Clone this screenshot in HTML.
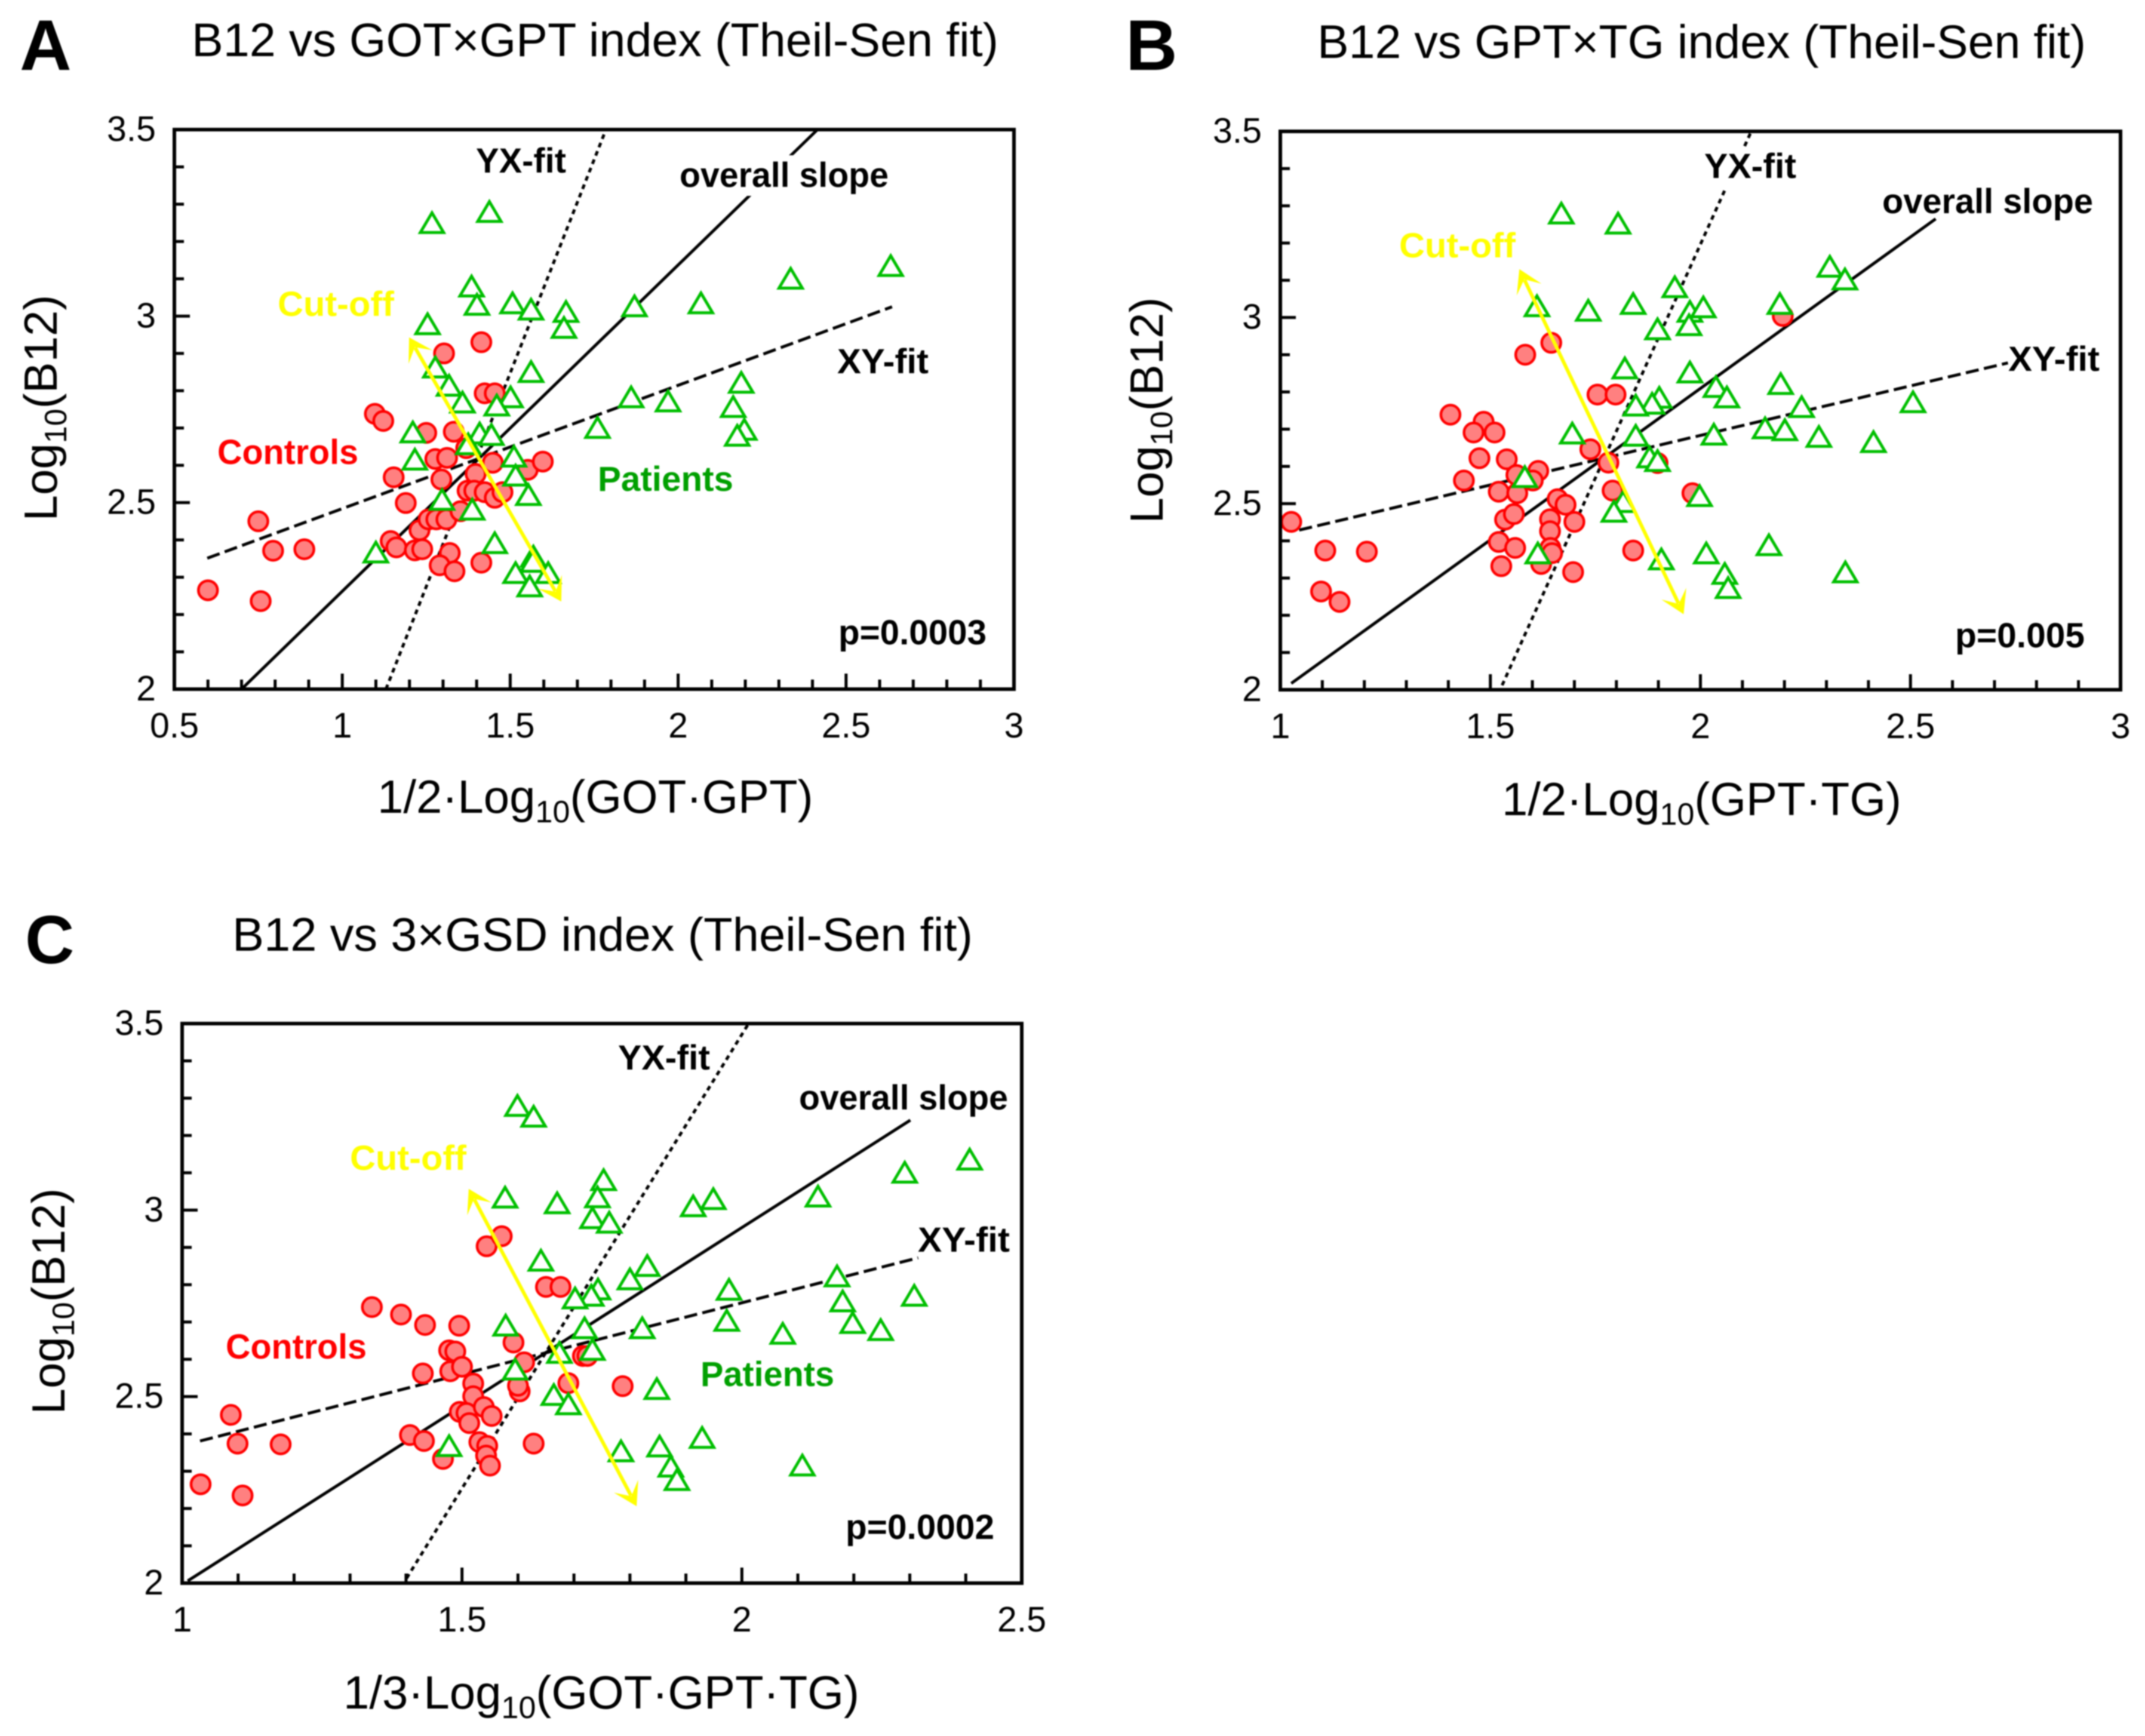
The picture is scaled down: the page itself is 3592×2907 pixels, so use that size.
<!DOCTYPE html>
<html lang="en">
<head>
<meta charset="utf-8">
<title>B12 vs liver and lipid indices (Theil-Sen fit)</title>
<style>
html,body{margin:0;padding:0;background:#fff;}
svg{display:block;filter:blur(1px);}
text{font-family:"Liberation Sans",sans-serif;fill:#000;}
.t{font-size:79px;}
.l{font-size:120px;font-weight:bold;}
.ax{font-size:78px;}
.a{font-size:58px;font-weight:bold;}
</style>
</head>
<body>
<svg id="figure" xmlns="http://www.w3.org/2000/svg" width="3592" height="2907" viewBox="0 0 3592 2907">
<rect x="0" y="0" width="3592" height="2907" fill="#fff"/>

<g id="panel-a">
<g id="marks-a"></g>
<rect x="1136" y="260" width="352" height="68" fill="#fff"/>
<text class="l" x="33" y="117">A</text>
<text class="t" x="321" y="94" textLength="1351" lengthAdjust="spacingAndGlyphs">B12 vs GOT×GPT index (Theil-Sen fit)</text>
<text class="ax" x="632" y="1361">1/2·Log<tspan font-size="52" dy="16">10</tspan><tspan dy="-16">(GOT·GPT)</tspan></text>
<text class="ax" text-anchor="middle" transform="translate(95,683) rotate(-90)">Log<tspan font-size="52" dy="16">10</tspan><tspan dy="-16">(B12)</tspan></text>
<text class="a" x="797" y="289" textLength="151" lengthAdjust="spacingAndGlyphs">YX-fit</text>
<text class="a" x="1138" y="313" textLength="350" lengthAdjust="spacingAndGlyphs">overall slope</text>
<text class="a" x="1402" y="625" textLength="153" lengthAdjust="spacingAndGlyphs">XY-fit</text>
<text class="a" x="465" y="529" textLength="195" lengthAdjust="spacingAndGlyphs" style="fill:#ffff00">Cut-off</text>
<text class="a" x="364" y="777" textLength="236" lengthAdjust="spacingAndGlyphs" style="fill:#ff0000">Controls</text>
<text class="a" x="1001" y="822" textLength="227" lengthAdjust="spacingAndGlyphs" style="fill:#00a000">Patients</text>
<text class="a" x="1404" y="1079" textLength="248" lengthAdjust="spacingAndGlyphs">p=0.0003</text>
</g>

<g id="panel-b">
<g id="marks-b"></g>
<rect x="2852" y="250" width="160" height="66" fill="#fff"/>
<text class="l" x="1885" y="117">B</text>
<text class="t" x="2206" y="97" textLength="1287" lengthAdjust="spacingAndGlyphs">B12 vs GPT×TG index (Theil-Sen fit)</text>
<text class="ax" x="2515" y="1365">1/2·Log<tspan font-size="52" dy="16">10</tspan><tspan dy="-16">(GPT·TG)</tspan></text>
<text class="ax" text-anchor="middle" transform="translate(1947,687) rotate(-90)">Log<tspan font-size="52" dy="16">10</tspan><tspan dy="-16">(B12)</tspan></text>
<text class="a" x="2854" y="298" textLength="154" lengthAdjust="spacingAndGlyphs">YX-fit</text>
<text class="a" x="3152" y="357" textLength="353" lengthAdjust="spacingAndGlyphs">overall slope</text>
<text class="a" x="3363" y="621" textLength="153" lengthAdjust="spacingAndGlyphs">XY-fit</text>
<text class="a" x="2343" y="431" textLength="195" lengthAdjust="spacingAndGlyphs" style="fill:#ffff00">Cut-off</text>
<text class="a" x="3274" y="1084" textLength="217" lengthAdjust="spacingAndGlyphs">p=0.005</text>
</g>

<g id="panel-c">
<g id="marks-c"></g>
<text class="l" x="42" y="1613" style="font-size:114px">C</text>
<text class="t" x="389" y="1592" textLength="1240" lengthAdjust="spacingAndGlyphs">B12 vs 3×GSD index (Theil-Sen fit)</text>
<text class="ax" x="575" y="2861">1/3·Log<tspan font-size="52" dy="16">10</tspan><tspan dy="-16">(GOT·GPT·TG)</tspan></text>
<text class="ax" text-anchor="middle" transform="translate(108,2179) rotate(-90)">Log<tspan font-size="52" dy="16">10</tspan><tspan dy="-16">(B12)</tspan></text>
<text class="a" x="1035" y="1791" textLength="154" lengthAdjust="spacingAndGlyphs">YX-fit</text>
<text class="a" x="1338" y="1858" textLength="350" lengthAdjust="spacingAndGlyphs">overall slope</text>
<text class="a" x="1537" y="2096" textLength="154" lengthAdjust="spacingAndGlyphs">XY-fit</text>
<text class="a" x="586" y="1959" textLength="195" lengthAdjust="spacingAndGlyphs" style="fill:#ffff00">Cut-off</text>
<text class="a" x="378" y="2275" textLength="236" lengthAdjust="spacingAndGlyphs" style="fill:#ff0000">Controls</text>
<text class="a" x="1173" y="2321" textLength="224" lengthAdjust="spacingAndGlyphs" style="fill:#00a000">Patients</text>
<text class="a" x="1416" y="2577" textLength="249" lengthAdjust="spacingAndGlyphs">p=0.0002</text>
</g>
</svg>

<script>
// ---------- Tick labels ----------
var yTickLabels = ['2', '2.5', '3', '3.5'];
var xTickLabelsA = ['0.5', '1', '1.5', '2', '2.5', '3'];
var xTickLabelsB = ['1', '1.5', '2', '2.5', '3'];
var xTickLabelsC = ['1', '1.5', '2', '2.5'];

// ---------- Panel A values ----------
var controlsAX = [0.60,0.757,0.75,0.794,0.887,1.097,1.122,1.153,1.189,1.144,1.161,1.216,1.238,1.23,1.25,1.277,1.312,1.295,1.303,1.257,1.28,1.31,1.352,1.32,1.29,1.334,1.414,1.414,1.424,1.454,1.332,1.369,1.397,1.373,1.393,1.424,1.454,1.477,1.448,1.552,1.597];
var controlsAY = [2.265,2.236,2.45,2.371,2.375,2.738,2.719,2.568,2.499,2.397,2.38,2.372,2.375,2.426,2.687,2.617,2.62,2.562,2.90,2.455,2.455,2.455,2.477,2.365,2.332,2.316,2.339,2.93,2.793,2.793,2.69,2.646,2.577,2.532,2.532,2.528,2.513,2.528,2.607,2.588,2.61];
var patientsAX = [1.267,1.438,2.633,2.335,2.068,1.87,1.507,1.562,1.666,1.66,1.385,1.401,1.254,1.277,1.318,1.358,1.562,1.501,1.46,1.86,1.97,2.188,2.164,2.197,2.176,1.76,1.21,1.216,1.409,1.375,1.444,1.511,1.516,1.554,1.297,1.387,1.454,1.10,1.569,1.567,1.516,1.613,1.558];
var patientsAY = [3.248,3.278,3.133,3.099,3.033,3.025,3.033,3.016,3.01,2.967,3.078,3.029,2.977,2.861,2.812,2.767,2.849,2.781,2.759,2.781,2.77,2.82,2.755,2.694,2.678,2.699,2.687,2.614,2.684,2.655,2.68,2.622,2.571,2.519,2.506,2.48,2.39,2.365,2.354,2.34,2.31,2.31,2.274];
var overallAX = [0.70, 2.415];
var overallAY = [2.0, 3.5];
var xyFitAX = [0.598, 2.637];
var xyFitAY = [2.351, 3.025];
var yxFitAX = [1.13, 1.785];
var yxFitAY = [2.0, 3.5];
var cutOffAX = [1.199, 1.652];
var cutOffAY = [2.943, 2.235];

// ---------- Panel B values ----------
var controlsBX = [1.026,1.107,1.206,1.097,1.141,1.405,1.484,1.46,1.51,1.474,1.539,1.437,1.562,1.614,1.601,1.52,1.564,1.535,1.556,1.52,1.559,1.526,1.621,1.642,1.642,1.643,1.647,1.66,1.679,1.70,1.697,1.583,1.645,1.755,1.798,1.738,1.781,1.791,1.84,1.898,1.981,2.196];
var controlsBY = [2.451,2.374,2.371,2.264,2.236,2.739,2.72,2.691,2.691,2.622,2.619,2.562,2.577,2.588,2.562,2.532,2.528,2.457,2.472,2.397,2.381,2.332,2.338,2.458,2.426,2.381,2.367,2.512,2.497,2.451,2.316,2.90,2.932,2.793,2.793,2.646,2.61,2.535,2.374,2.609,2.528,3.004];
var patientsBX = [1.669,1.804,2.308,2.344,2.189,1.939,1.975,2.007,1.973,1.898,1.84,1.733,1.611,1.82,1.975,2.037,2.063,2.191,1.902,1.885,1.846,2.241,2.506,2.154,2.201,2.282,2.412,2.032,1.846,1.695,1.879,1.898,1.582,1.998,1.816,1.794,1.613,1.907,2.014,2.163,2.058,2.066,2.345];
var patientsBY = [3.278,3.251,3.135,3.101,3.035,3.08,3.014,3.026,2.978,2.967,3.035,3.017,3.029,2.862,2.851,2.812,2.784,2.82,2.783,2.767,2.762,2.758,2.771,2.701,2.696,2.678,2.664,2.684,2.681,2.687,2.623,2.613,2.57,2.519,2.503,2.477,2.365,2.349,2.365,2.387,2.31,2.272,2.314];
var overallBX = [1.026, 2.56];
var overallBY = [2.017, 3.265];
var xyFitBX = [1.045, 2.732];
var xyFitBY = [2.429, 2.878];
var yxFitBX = [1.528, 2.121];
var yxFitBY = [2.012, 3.5];
var cutOffBX = [1.569, 1.96];
var cutOffBY = [3.13, 2.203];

// ---------- Panel C values ----------
var controlsCX = [1.033,1.108,1.087,1.099,1.176,1.339,1.391,1.434,1.495,1.43,1.477,1.488,1.479,1.5,1.52,1.52,1.496,1.508,1.539,1.553,1.513,1.407,1.432,1.466,1.531,1.545,1.543,1.55,1.628,1.544,1.571,1.65,1.676,1.592,1.611,1.603,1.6,1.69,1.716,1.724,1.787];
var controlsCY = [2.265,2.235,2.451,2.374,2.372,2.74,2.72,2.692,2.69,2.562,2.624,2.621,2.568,2.58,2.535,2.501,2.459,2.456,2.472,2.448,2.429,2.397,2.381,2.333,2.378,2.368,2.342,2.315,2.374,2.903,2.93,2.794,2.794,2.645,2.592,2.514,2.529,2.536,2.609,2.609,2.528];
var patientsCX = [1.599,1.628,2.407,2.291,2.136,1.949,1.913,1.753,1.742,1.733,1.763,1.67,1.577,1.641,1.831,1.8,1.743,1.731,1.702,1.977,1.973,2.17,2.18,2.198,2.248,2.308,2.073,1.822,1.719,1.578,1.733,1.674,1.595,1.848,1.664,1.69,1.477,1.784,1.853,1.929,1.873,1.884,2.108];
var patientsCY = [3.278,3.249,3.134,3.099,3.035,3.028,3.009,3.079,3.033,2.977,2.965,3.017,3.032,2.863,2.849,2.813,2.786,2.769,2.762,2.785,2.702,2.821,2.754,2.696,2.677,2.769,2.667,2.682,2.682,2.689,2.624,2.616,2.571,2.519,2.503,2.478,2.366,2.352,2.365,2.388,2.311,2.275,2.314];
var overallCX = [1.01, 2.301];
var overallCY = [2.006, 3.241];
var xyFitCX = [1.032, 2.315];
var xyFitCY = [2.381, 2.872];
var yxFitCX = [1.401, 2.012];
var yxFitCY = [2.013, 3.5];
var cutOffCX = [1.512, 1.812];
var cutOffCY = [3.057, 2.206];

var SVGNS = 'http://www.w3.org/2000/svg';

function mk(tag, attrs, parent) {
  var el = document.createElementNS(SVGNS, tag);
  for (var k in attrs) el.setAttribute(k, attrs[k]);
  parent.appendChild(el);
  return el;
}

function drawLine(g, xs, ys, sx, sy, dash) {
  var attrs = {x1: sx(xs[0]), y1: sy(ys[0]), x2: sx(xs[1]), y2: sy(ys[1]), stroke: '#000', 'stroke-width': 5};
  if (dash) attrs['stroke-dasharray'] = dash;
  return mk('line', attrs, g);
}

function arrowHead(g, tx, ty, ux, uy) {
  var px = -uy, py = ux;
  var pts = [
    [tx, ty],
    [tx + ux * 38 + px * 23, ty + uy * 38 + py * 23],
    [tx + ux * 19, ty + uy * 19],
    [tx + ux * 38 - px * 23, ty + uy * 38 - py * 23]
  ].map(function (p) { return p[0].toFixed(1) + ',' + p[1].toFixed(1); }).join(' ');
  return mk('polygon', {points: pts, fill: '#ffff00'}, g);
}

function drawPanel(o) {
  var g = document.getElementById(o.id);
  var xMin = parseFloat(o.xLabels[0]);
  var xMax = parseFloat(o.xLabels[o.xLabels.length - 1]);
  var yMin = parseFloat(yTickLabels[0]);
  var yMax = parseFloat(yTickLabels[yTickLabels.length - 1]);
  function sx(v) { return o.left + (v - xMin) / (xMax - xMin) * (o.right - o.left); }
  function sy(v) { return o.bottom - (v - yMin) / (yMax - yMin) * (o.bottom - o.top); }
  var el, i, v, major;

  // minor and major ticks
  var nx = Math.round((xMax - xMin) * 10);
  for (i = 1; i < nx; i++) {
    v = xMin + i / 10;
    major = i % 5 === 0;
    el = mk('line', {x1: sx(v), x2: sx(v), y1: o.bottom, y2: o.bottom - (major ? 26 : 16), stroke: '#000', 'stroke-width': 5}, g);
    
    
  }
  var ny = Math.round((yMax - yMin) * 10);
  for (i = 1; i < ny; i++) {
    v = yMin + i / 10;
    major = i % 5 === 0;
    el = mk('line', {x1: o.left, x2: o.left + (major ? 26 : 16), y1: sy(v), y2: sy(v), stroke: '#000', 'stroke-width': 5}, g);
    
    
  }

  // tick labels
  o.xLabels.forEach(function (t) {
    var n = mk('text', {x: sx(parseFloat(t)), y: o.bottom + 81, 'text-anchor': 'middle', 'font-size': 59}, g);
    n.textContent = t;
    
    
  });
  yTickLabels.forEach(function (t) {
    var n = mk('text', {x: o.left - 31, y: sy(parseFloat(t)) + 19, 'text-anchor': 'end', 'font-size': 59}, g);
    n.textContent = t;
    
    
  });

  // fit lines
  el = drawLine(g, o.overallX, o.overallY, sx, sy, null);
  
  
  el = drawLine(g, o.xyX, o.xyY, sx, sy, '22 9');
  
  
  el = drawLine(g, o.yxX, o.yxY, sx, sy, '8 7');
  
  

  // control points
  o.controlsX.forEach(function (x, idx) {
    var c = mk('circle', {cx: sx(x), cy: sy(o.controlsY[idx]), r: 16, fill: '#ff8080', stroke: '#ff0000', 'stroke-width': 4.5}, g);
    
    
  });

  // patient points
  o.patientsX.forEach(function (x, idx) {
    var cx = sx(x), cy = sy(o.patientsY[idx]);
    var pts = [[cx, cy - 18], [cx + 19.5, cy + 15], [cx - 19.5, cy + 15]]
      .map(function (p) { return p[0].toFixed(1) + ',' + p[1].toFixed(1); }).join(' ');
    var t = mk('polygon', {points: pts, fill: '#fff', stroke: '#00bf00', 'stroke-width': 5}, g);
    
    
  });

  // cut-off arrow
  var ax = sx(o.cutX[0]), ay = sy(o.cutY[0]), bx = sx(o.cutX[1]), by = sy(o.cutY[1]);
  var len = Math.hypot(bx - ax, by - ay), ux = (bx - ax) / len, uy = (by - ay) / len;
  el = mk('line', {x1: ax + ux * 20, y1: ay + uy * 20, x2: bx - ux * 20, y2: by - uy * 20, stroke: '#ffff00', 'stroke-width': 6}, g);
  
  
  el = arrowHead(g, ax, ay, ux, uy);
  
  
  el = arrowHead(g, bx, by, -ux, -uy);
  
  

  // frame
  el = mk('rect', {x: o.left, y: o.top, width: o.right - o.left, height: o.bottom - o.top, fill: 'none', stroke: '#000', 'stroke-width': 6}, g);
  
  
}

drawPanel({id: 'marks-a', left: 292, right: 1698, top: 217, bottom: 1154, xLabels: xTickLabelsA,
  controlsX: controlsAX, controlsY: controlsAY, patientsX: patientsAX, patientsY: patientsAY,
  overallX: overallAX, overallY: overallAY, xyX: xyFitAX, xyY: xyFitAY, yxX: yxFitAX, yxY: yxFitAY,
  cutX: cutOffAX, cutY: cutOffAY});
drawPanel({id: 'marks-b', left: 2144, right: 3551, top: 220, bottom: 1155, xLabels: xTickLabelsB,
  controlsX: controlsBX, controlsY: controlsBY, patientsX: patientsBX, patientsY: patientsBY,
  overallX: overallBX, overallY: overallBY, xyX: xyFitBX, xyY: xyFitBY, yxX: yxFitBX, yxY: yxFitBY,
  cutX: cutOffBX, cutY: cutOffBY});
drawPanel({id: 'marks-c', left: 305, right: 1711, top: 1714, bottom: 2651, xLabels: xTickLabelsC,
  controlsX: controlsCX, controlsY: controlsCY, patientsX: patientsCX, patientsY: patientsCY,
  overallX: overallCX, overallY: overallCY, xyX: xyFitCX, xyY: xyFitCY, yxX: yxFitCX, yxY: yxFitCY,
  cutX: cutOffCX, cutY: cutOffCY});
</script>
</body>
</html>
